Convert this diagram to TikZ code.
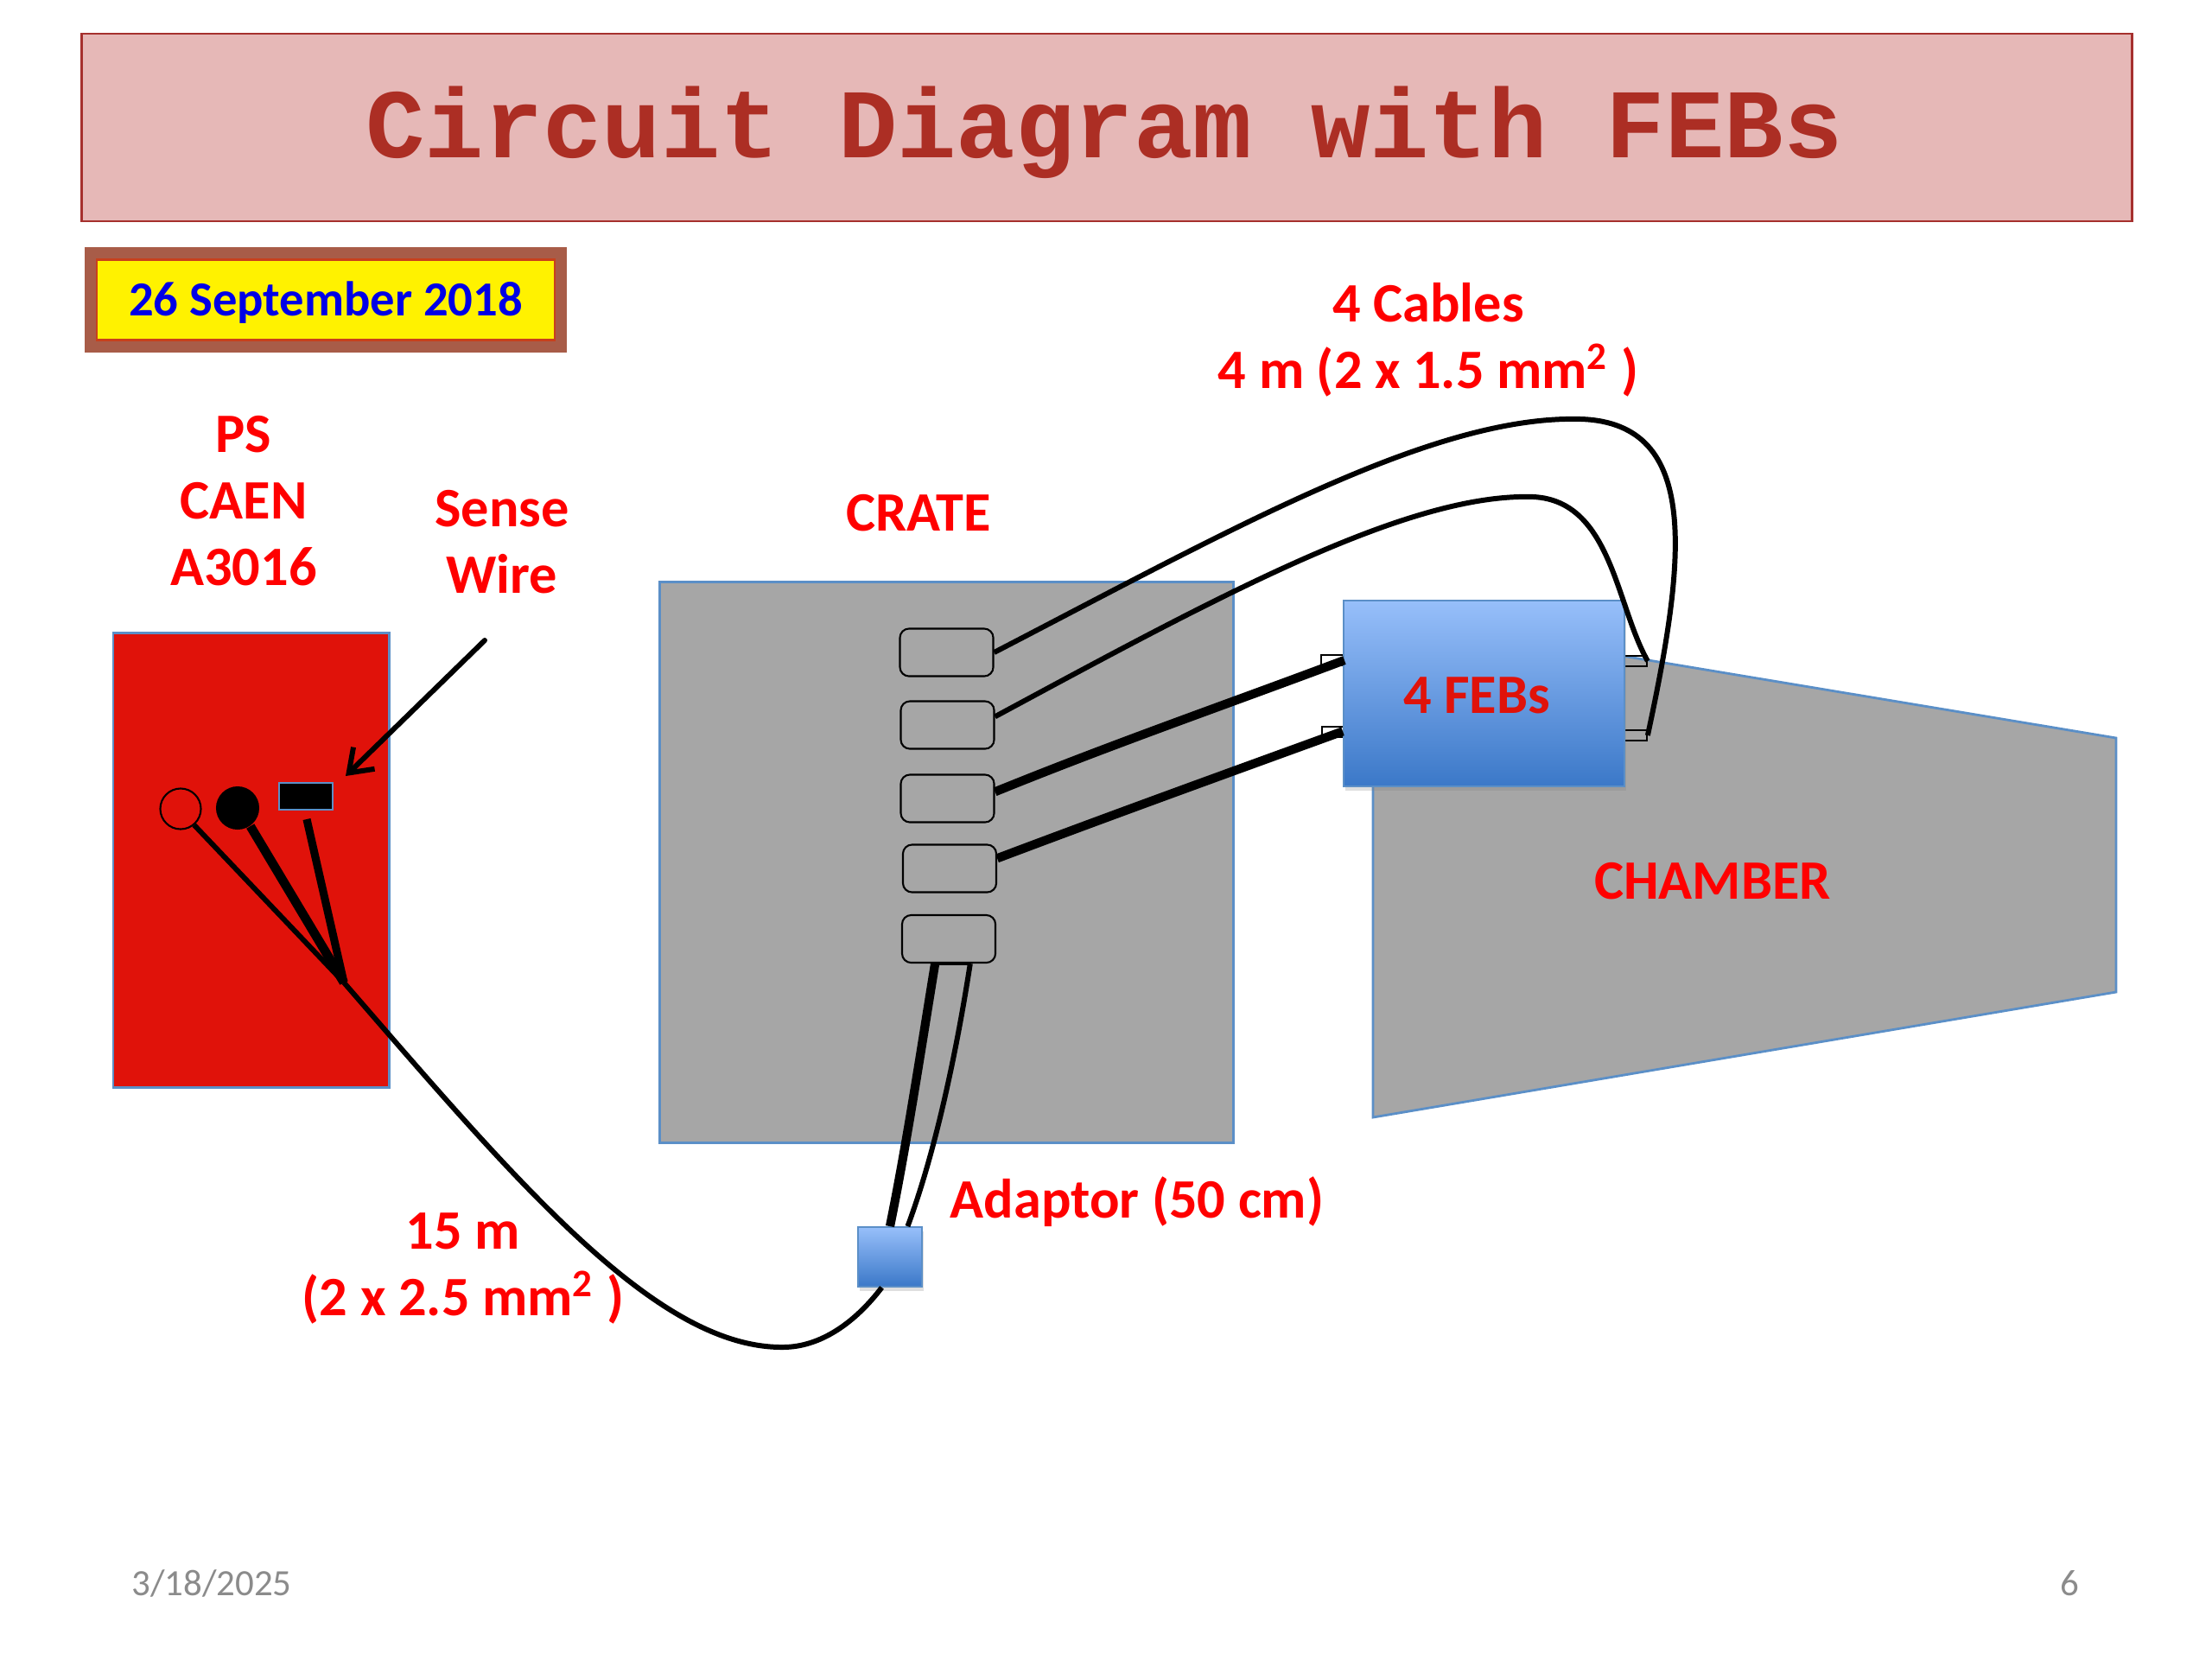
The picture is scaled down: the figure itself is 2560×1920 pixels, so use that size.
\documentclass[tikz,border=0pt]{standalone}
\usepackage{fontspec}
\setmainfont{Carlito}
\newfontfamily\titlefont{Liberation Mono}
\usetikzlibrary{arrows.meta,calc,positioning,shadows}

\definecolor{titlefill}{HTML}{E6B8B7}
\definecolor{titleline}{HTML}{A6302E}
\definecolor{titletext}{HTML}{AC2E24}
\definecolor{edgeblue}{HTML}{5B8FC7}
\definecolor{greybox}{HTML}{A6A6A6}
\definecolor{psred}{HTML}{E0120A}
\definecolor{labelred}{HTML}{FF0000}
\definecolor{feblight}{HTML}{97BFFA}
\definecolor{febdark}{HTML}{3B78C8}
\definecolor{dateglow}{HTML}{A85C48}
\definecolor{dateline}{HTML}{C8401C}
\definecolor{dateblue}{HTML}{0000E6}
\definecolor{footgrey}{HTML}{8B8B8B}

\tikzset{
  label/.style={font=\fontsize{18.3}{21.9}\selectfont\bfseries,text=labelred,align=center,inner sep=0pt},
  slot/.style={draw=black,line width=0.6pt,rounded corners=3pt,inner sep=0pt,minimum width=1.08cm,minimum height=0.55cm},
  tab/.style={draw=black,line width=0.5pt,inner sep=0pt,minimum width=0.26cm,minimum height=0.12cm},
  febbox/.style={top color=feblight,bottom color=febdark,draw=edgeblue,line width=0.5pt,inner sep=0pt,drop shadow={shadow xshift=0.5pt,shadow yshift=-1.5pt,opacity=0.25}},
  cable/.style={line width=1.7pt},
  thickcable/.style={line width=2.9pt},
  footer/.style={font=\fontsize{12.2}{14}\selectfont,text=footgrey,inner sep=0pt}
}

\begin{document}
\begin{tikzpicture}[x=0.01cm,y=-0.01cm]
  \useasboundingbox (0,0) rectangle (2560,1920);

  % Title
  \node[draw=titleline,fill=titlefill,line width=0.7pt,inner sep=0pt,minimum width=23.72cm,minimum height=2.17cm] (title) at (1281,147.5) {};
  \node[inner sep=0pt,font=\titlefont\fontsize{32.4}{36}\selectfont\bfseries,text=titletext] (titlelabel) at (1278,153) {Circuit Diagram with FEBs};

  % Date
  \node[draw=dateline,fill=yellow,line width=0.6pt,preaction={draw=dateglow,line width=8pt,rounded corners=2pt},inner sep=0pt,minimum width=5.3cm,minimum height=0.93cm] (date) at (377,347) {};
  \node[inner sep=0pt,font=\fontsize{16.1}{18}\selectfont\bfseries,text=dateblue] (datelabel) at (377,350) {26 September 2018};

  % Chamber
  \draw[draw=edgeblue,fill=greybox,line width=0.8pt] (1589,711) -- (2449,854) -- (2449,1148) -- (1589,1293) -- cycle;
  \node[label] (chamber) at (1982,1020) {CHAMBER};

  % Power supply
  \node[draw=edgeblue,fill=psred,line width=0.8pt,inner sep=0pt,minimum width=3.19cm,minimum height=5.25cm] (ps) at (290.5,995.5) {};
  \node[label] (pslabel) at (282,580) {PS\\CAEN\\A3016};
  \node[draw=black,circle,line width=0.6pt,inner sep=0pt,minimum size=0.47cm] (hv) at (209,936) {};
  \node[fill=black,circle,inner sep=0pt,minimum size=0.5cm] (gnd) at (275,935) {};
  \node[draw=edgeblue,fill=black,line width=0.5pt,inner sep=0pt,minimum width=0.62cm,minimum height=0.31cm] (sense) at (354,921.5) {};
  \node[label] (senselabel) at (581,627) {Sense\\Wire};
  \coordinate (sensetail) at (561,741);
  \coordinate (sensehead) at (400,898);
  \coordinate (sensewire) at (355,948);
  \coordinate (junction) at (398,1137);
  \draw[-{Straight Barb[length=7pt,width=10pt]},line width=1.7pt,line cap=round] (sensetail) -- (sensehead);

  % Crate
  \node[draw=edgeblue,fill=greybox,line width=0.8pt,inner sep=0pt,minimum width=6.63cm,minimum height=6.48cm] (crate) at (1095.5,998) {};
  \node[label] (cratelabel) at (1063,594) {CRATE};
  \node[slot] (slotA) at (1095.5,755) {};
  \node[slot] (slotB) at (1096.5,839) {};
  \node[slot] (slotC) at (1096.5,924) {};
  \node[slot] (slotD) at (1099,1005) {};
  \node[slot] (slotE) at (1098,1086.5) {};

  % FEBs
  \node[tab] (tabA) at (1542,764) {};
  \node[tab] (tabB) at (1543,847) {};
  \node[tab] (tabC) at (1893,765) {};
  \node[tab] (tabD) at (1893,851) {};
  \node[febbox,minimum width=3.25cm,minimum height=2.15cm] (feb) at (1717.5,802.5) {};
  \node[label,text=psred] (feblabel) at (1709,805) {4 FEBs};

  % Adaptor
  \node[febbox,minimum width=0.74cm,minimum height=0.69cm] (adaptor) at (1030,1454.5) {};
  \node[label] (adaptorlabel) at (1316,1391) {Adaptor (50 cm)};

  % Cables to the FEBs
  \draw[cable] (slotA.east) .. controls (1430,610) and (1660,480) .. (1830,485) .. controls (1970,490) and (1950,650) .. (tabD.east);
  \draw[cable] (slotB.10) .. controls (1410,690) and (1630,570) .. (1775,575) .. controls (1865,580) and (1870,700) .. (tabC.east);
  \draw[thickcable] (slotC.8) .. controls (1290,860) and (1420,815) .. (tabA.east);
  \draw[thickcable] (slotD.12) .. controls (1290,942) and (1420,895) .. (feb.195);
  \node[label] (cableslabel) at (1653,393) {4 Cables\\4 m (2 x 1.5 mm\textsuperscript{2} )};

  % Adaptor wires
  \draw[thickcable] (slotE.241) .. controls (1065,1220) and (1050,1320) .. (adaptor.north);
  \draw[cable] (slotE.311) .. controls (1105,1230) and (1080,1340) .. (adaptor.60);
  \draw[line width=1.2pt] (slotE.241) -- (slotE.311);

  % Wires inside the power supply
  \draw[cable] (hv.-50) -- (junction);
  \draw[line width=3pt] (gnd.-55) -- (junction);
  \draw[line width=2.6pt] (sensewire) -- (junction);

  % Long cable
  \draw[cable] (junction) .. controls (600,1370) and (760,1560) .. (906,1559) .. controls (950,1559) and (990,1530) .. (adaptor.-105);
  \node[label] (longlabel) at (536,1468) {15 m\\(2 x 2.5 mm\textsuperscript{2} )};

  % Footer
  \node[footer] (footdate) at (245,1832) {3/18/2025};
  \node[footer] (footpage) at (2395,1832) {6};
\end{tikzpicture}
\end{document}
